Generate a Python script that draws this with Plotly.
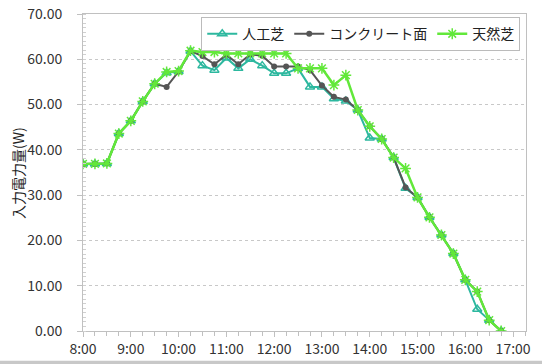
import plotly.graph_objects as go

times = ["8:00","8:15","8:30","8:45","9:00","9:15","9:30","9:45","10:00","10:15","10:30","10:45",
         "11:00","11:15","11:30","11:45","12:00","12:15","12:30","12:45","13:00","13:15","13:30","13:45",
         "14:00","14:15","14:30","14:45","15:00","15:15","15:30","15:45","16:00","16:15","16:30","16:45"]

artificial = [36.9, 36.9, 37.0, 43.6, 46.4, 50.7, 54.6, 57.0, 57.3, 61.8, 58.6, 57.6,
              60.3, 58.0, 60.0, 58.6, 56.9, 56.9, 58.0, 53.9, 53.9, 51.3, 50.8, 48.8,
              42.6, 42.4, 38.3, 31.5, 29.5, 25.1, 21.2, 17.1, 11.3, 4.8, 2.4, 0.0]

concrete = [36.9, 36.9, 37.0, 43.6, 46.4, 50.7, 54.6, 53.9, 57.3, 61.8, 60.7, 58.9,
            61.0, 58.9, 61.1, 60.8, 58.4, 58.4, 58.4, 57.6, 54.2, 51.7, 51.1, 48.8,
            45.2, 42.4, 38.3, 31.7, 29.5, 25.1, 21.2, 17.1, 11.3, 8.7, 2.4, 0.0]

natural = [36.9, 36.9, 37.0, 43.6, 46.4, 50.7, 54.6, 57.2, 57.4, 61.9, 61.6, 61.6,
           61.3, 61.3, 61.3, 61.3, 61.3, 61.3, 58.0, 58.0, 58.0, 54.3, 56.5, 48.8,
           45.2, 42.4, 38.3, 35.9, 29.5, 25.1, 21.2, 17.1, 11.3, 8.7, 2.4, 0.0]

hour_labels = ["8:00","9:00","10:00","11:00","12:00","13:00","14:00","15:00","16:00","17:00"]
y_ticks = [0, 10, 20, 30, 40, 50, 60, 70]

def to_h(s):
    h, m = s.split(":")
    return int(h) + int(m) / 60

x = [to_h(t) for t in times]
hour_vals = [to_h(t) for t in hour_labels]

teal = "#2DB89F"
gray = "#555555"
green = "#62E83A"

fig = go.Figure()
fig.add_trace(go.Scatter(x=x, y=artificial, name="人工芝", mode="lines+markers",
                         line=dict(color=teal, width=2),
                         marker=dict(symbol="triangle-up-open", size=8, color=teal,
                                     line=dict(color=teal, width=1.5))))
fig.add_trace(go.Scatter(x=x, y=concrete, name="コンクリート面", mode="lines+markers",
                         line=dict(color=gray, width=2),
                         marker=dict(symbol="circle", size=6, color=gray)))
fig.add_trace(go.Scatter(x=x, y=natural, name="天然芝", mode="lines+markers",
                         line=dict(color=green, width=2.5),
                         marker=dict(symbol="asterisk-open", size=9, color=green,
                                     line=dict(color=green, width=1.5))))

font_family = "Noto Sans CJK JP, Noto Sans, sans-serif"

fig.update_layout(
    width=542, height=364,
    margin=dict(l=83, r=16, t=14, b=33, autoexpand=False),
    paper_bgcolor="white", plot_bgcolor="white",
    font=dict(family=font_family, size=13, color="#333333"),
    showlegend=True,
    legend=dict(orientation="h", x=0.987, y=0.99, xanchor="right", yanchor="top",
                bordercolor="#bbbbbb", borderwidth=1, bgcolor="white",
                font=dict(size=14, color="#222222"),
                itemwidth=30, tracegroupgap=0),
    xaxis=dict(range=[8, 17.27], tickvals=hour_vals, ticktext=hour_labels,
               automargin=False,
               showgrid=False, zeroline=False, showline=True, linecolor="#c0c0c0",
               mirror=True, ticks="outside", ticklen=5, tickcolor="#c0c0c0",
               minor=dict(dtick=0.25, tick0=8, ticks="outside", ticklen=4, tickcolor="#c0c0c0"),
               tickfont=dict(size=14, color="#333333")),
    yaxis=dict(range=[0, 70], tickvals=y_ticks, ticktext=[f"{v:.2f}" for v in y_ticks],
               automargin=False,
               showgrid=True, gridcolor="#c8c8c8", griddash="dot", gridwidth=1,
               zeroline=False, showline=True, linecolor="#c0c0c0", mirror=True,
               ticks="outside", ticklen=5, tickcolor="#c0c0c0", ticklabelstandoff=12,
               minor=dict(dtick=1, ticks="inside", ticklen=3, tickcolor="#d0d0d0", showgrid=False),
               tickfont=dict(size=14, color="#333333")),
)

fig.add_annotation(text="入力電力量(W)", xref="paper", yref="paper", x=-0.148, y=0.5,
                   xanchor="center", yanchor="middle", textangle=-90, showarrow=False,
                   font=dict(size=14, color="#222222"))

fig.add_shape(type="rect", xref="paper", yref="paper", x0=-0.2, x1=1.05,
              y0=-0.104, y1=-0.094, fillcolor="#c8c8c8", line=dict(width=0), layer="below")

fig.write_html("out.html", config={"displayModeBar": False},
               post_script="document.body.style.margin='0';document.body.style.padding='0';")
